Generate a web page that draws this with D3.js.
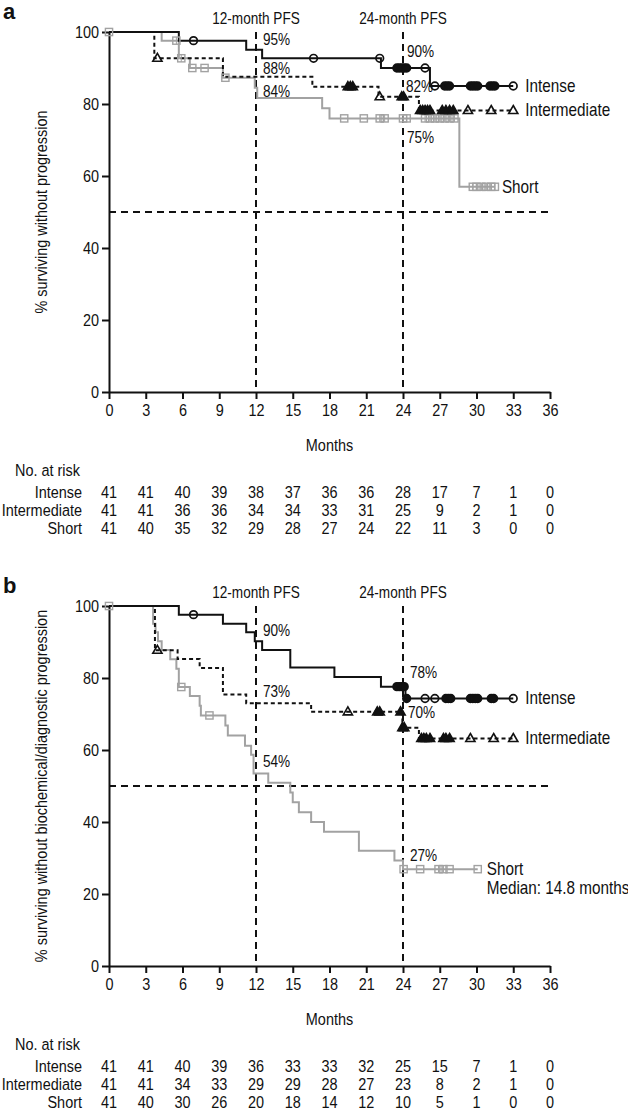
<!DOCTYPE html>
<html><head><meta charset="utf-8">
<script src="https://cdn.jsdelivr.net/npm/d3@7"></script>
<style>
html,body{margin:0;padding:0;background:#fff;}
svg text{font-family:'Liberation Sans',Arial,sans-serif;fill:#111;}
</style></head>
<body><svg id="c" width="628" height="1113"></svg>
<script>
// ---------- data ----------
const monthTicks = [0,3,6,9,12,15,18,21,24,27,30,33,36];
const yTicks = [0,20,40,60,80,100];
const groups = ["Intense","Intermediate","Short"];

// Panel a : progression-free survival
const aIntenseT = [0,5.7,11.2,12.5,22.2,26.2];
const aIntenseS = [100,97.6,95.1,92.7,90.0,85.0];
const aIntenseEnd = 33;
const aIntenseCens = [6.9,16.7,22.1,23.5,23.7,23.9,24.1,24.3,25.8,26.6,27.4,27.6,27.8,29.5,29.7,29.9,30.1,31.1,31.3,31.5,33.0];

const aInterT = [0,3.7,9.3,16.6,22.0,25.3];
const aInterS = [100,92.7,87.6,84.8,82.0,78.2];
const aInterEnd = 33;
const aInterCens = [3.95,19.5,19.7,19.9,22.1,23.9,24.05,25.4,25.6,25.8,26.0,26.2,27.2,27.5,27.8,28.1,29.3,31.2,33.0];

const aShortT = [0,4.3,5.7,6.6,9.3,11.9,12.1,17.4,18.0,28.6];
const aShortS = [100,97.6,92.7,90.0,87.3,84.5,81.7,78.8,76.0,57.0];
const aShortEnd = 31.5;
const aShortCens = [0,5.5,5.9,6.8,7.8,9.5,19.2,20.8,22.1,22.5,24.0,24.3,25.8,26.2,26.6,27.0,27.4,27.8,28.2,29.7,30.0,30.4,30.8,31.2,31.5];

const aRiskIntense = [41,41,40,39,38,37,36,36,28,17,7,1,0];
const aRiskInter   = [41,41,36,36,34,34,33,31,25,9,2,1,0];
const aRiskShort   = [41,40,35,32,29,28,27,24,22,11,3,0,0];

const aNotes = [
  {t:12,text:"95%",v:96.4,dx:7},{t:12,text:"88%",v:88.3,dx:7},{t:12,text:"84%",v:82.0,dx:7},
  {t:24,text:"90%",v:93.0,dx:4},{t:24,text:"82%",v:83.4,dx:3},{t:24,text:"75%",v:69.2,dx:4}
];
const aLabels = [
  {text:"Intense",t:33,v:85.0,dx:12},{text:"Intermediate",t:33,v:78.2,dx:12},{text:"Short",t:31.5,v:57.0,dx:7}
];

// Panel b : biochemical/diagnostic progression
const bIntenseT = [0,5.7,9.3,11.2,11.9,12.5,14.8,18.4,22.2,24.2];
const bIntenseS = [100,97.6,95.1,92.7,90.2,87.8,82.9,80.3,77.6,74.3];
const bIntenseEnd = 33;
const bIntenseCens = [6.9,23.5,23.7,23.9,24.1,24.3,25.8,26.6,27.5,27.7,27.9,29.5,29.7,29.9,30.1,31.2,31.4,33.0];

const bInterT = [0,3.75,5.6,7.4,9.3,11.2,16.5,23.95,25.3];
const bInterS = [100,87.7,85.3,82.8,75.4,73.0,70.6,66.2,63.2];
const bInterEnd = 33;
const bInterCens = [3.95,19.5,21.9,22.1,23.8,23.95,24.1,25.5,25.7,25.9,26.2,27.3,27.5,27.8,29.5,31.4,33.0];

const bShortT = [0,3.6,3.8,4.0,4.3,5.0,5.5,5.7,6.6,7.4,7.5,9.5,9.7,11.1,11.6,11.8,13.0,14.8,15.0,15.5,16.5,17.55,20.4,23.3,24.0];
const bShortS = [100,95.1,92.7,90.2,87.8,85.2,82.6,77.5,75.0,72.3,69.6,66.8,64.0,61.2,58.7,53.5,50.9,48.2,45.5,42.7,40.0,37.3,32.0,29.3,26.9];
const bShortEnd = 30.1;
const bShortCens = [0,5.9,8.2,24.05,25.4,26.9,27.3,27.8,30.1];

const bRiskIntense = [41,41,40,39,36,33,33,32,25,15,7,1,0];
const bRiskInter   = [41,41,34,33,29,29,28,27,23,8,2,1,0];
const bRiskShort   = [41,40,30,26,20,18,14,12,10,5,1,0,0];

const bNotes = [
  {t:12,text:"90%",v:91.6,dx:7},{t:12,text:"73%",v:74.6,dx:7},{t:12,text:"54%",v:55.2,dx:7},
  {t:24,text:"78%",v:79.9,dx:7},{t:24,text:"70%",v:68.8,dx:5},{t:24,text:"27%",v:29.3,dx:7}
];
const bLabels = [
  {text:"Intense",t:33,v:74.3,dx:12},{text:"Intermediate",t:33,v:63.2,dx:12},
  {text:"Short",t:30.1,v:26.9,dx:9},{text:"Median: 14.8 months",t:30.1,v:21.6,dx:9}
];

// ---------- drawing ----------
const svg = d3.select("#c");
const GRAY = "#a2a2a2";
const NARROW = 0.85;
const x = d3.scaleLinear().domain([0,36]).range([109,550]);

// condensed text helper
function txt(g, px, py, str, size, anchor, extra){
  return g.append("text")
    .attr("transform", `translate(${px},${py})${extra||""} scale(${NARROW},1)`)
    .attr("font-size", size).attr("text-anchor", anchor||"start").text(str);
}

function stepVal(T,S,t){ let v=S[0]; for(let i=0;i<T.length;i++){ if(T[i]<=t) v=S[i]; } return v; }

function panel(cfg){
  const top = cfg.top;
  const y = d3.scaleLinear().domain([0,100]).range([top+360, top]);
  const g = svg.append("g");

  g.append("text").attr("x",3).attr("y",top-13).attr("font-size",22).attr("font-weight","bold").text(cfg.letter);

  // reference lines
  [12,24].forEach(m=>{
    g.append("line").attr("x1",x(m)).attr("x2",x(m)).attr("y1",y(100)).attr("y2",y(0))
      .attr("stroke","#111").attr("stroke-width",2).attr("stroke-dasharray","7,5");
    txt(g, x(m), y(100)-8, m+"-month PFS", 16, "middle");
  });
  g.append("line").attr("x1",x(0)).attr("x2",x(36)).attr("y1",y(50)).attr("y2",y(50))
    .attr("stroke","#111").attr("stroke-width",2).attr("stroke-dasharray","7,5");

  // axes
  const ax = g.append("g").attr("transform",`translate(0,${y(0)})`)
    .call(d3.axisBottom(x).tickValues(monthTicks).tickSize(7).tickSizeOuter(0).tickPadding(5));
  const ay = g.append("g").attr("transform",`translate(${x(0)},0)`)
    .call(d3.axisLeft(y).tickValues(yTicks).tickSize(7).tickSizeOuter(0).tickPadding(3));
  [ax,ay].forEach(a=>{
    a.selectAll("path,line").attr("stroke","#111").attr("stroke-width",2);
    a.selectAll("text").attr("font-size",17).attr("fill","#111")
      .style("font-family","'Liberation Sans',Arial,sans-serif");
  });
  ax.selectAll(".tick text").attr("transform",`scale(${NARROW},1)`);
  ay.selectAll(".tick text").attr("x",-10/NARROW).attr("transform",`scale(${NARROW},1)`);

  txt(g, 41, y(50), cfg.ylab, 17, "middle", " rotate(-90)").attr("dominant-baseline","central");
  txt(g, (x(0)+x(36))/2, top+419, "Months", 17, "middle");

  // curves
  const line = d3.line().x(d=>x(d[0])).y(d=>y(d[1])).curve(d3.curveStepAfter);
  cfg.series.forEach(s=>{
    const pts = s.T.map((t,i)=>[t,s.S[i]]);
    pts.push([s.end, s.S[s.S.length-1]]);
    g.append("path").attr("d",line(pts)).attr("fill","none").attr("stroke",s.color)
      .attr("stroke-width",2).attr("stroke-dasharray",s.dash||null);
  });
  // censor marks
  cfg.series.forEach(s=>{
    const mg = g.append("g");
    s.C.forEach((t,i)=>{
      const crowded = s.C.some((u,j)=>j!==i && Math.abs(u-t)<0.45);
      const px = x(t), py = y(stepVal(s.T,s.S,t));
      const fill = crowded ? s.color : "none";
      if(s.shape==="circle"){
        mg.append("circle").attr("cx",px).attr("cy",py).attr("r",3.8)
          .attr("fill",fill).attr("stroke",s.color).attr("stroke-width",1.7);
      } else if(s.shape==="tri"){
        mg.append("path").attr("d",`M${px},${py-5}L${px+4.6},${py+3}L${px-4.6},${py+3}Z`)
          .attr("fill",fill).attr("stroke",s.color).attr("stroke-width",1.6);
      } else {
        mg.append("rect").attr("x",px-3.6).attr("y",py-3.6).attr("width",7.2).attr("height",7.2)
          .attr("fill","none").attr("stroke",s.color).attr("stroke-width",1.4);
        if(crowded) mg.append("line").attr("x1",px).attr("x2",px).attr("y1",py-3.6).attr("y2",py+3.6)
          .attr("stroke",s.color).attr("stroke-width",1);
      }
    });
  });

  // annotations
  cfg.notes.forEach(n=>{ txt(g, x(n.t)+n.dx, y(n.v), n.text, 16, "start"); });
  cfg.labels.forEach(l=>{
    txt(g, x(l.t)+l.dx, y(l.v), l.text, 18, "start").attr("dominant-baseline","central");
  });

  // risk table
  txt(g, 15, top+444, "No. at risk", 17, "start");
  cfg.risk.forEach((r,ri)=>{
    const yy = top+466+ri*18;
    txt(g, 82, yy, groups[ri], 17, "end");
    r.forEach((v,i)=>{ txt(g, x(monthTicks[i]), yy, v, 17, "middle"); });
  });
}

panel({
  top:32, letter:"a", ylab:"% surviving without progression",
  series:[
    {T:aShortT,S:aShortS,end:aShortEnd,C:aShortCens,color:GRAY,shape:"square"},
    {T:aInterT,S:aInterS,end:aInterEnd,C:aInterCens,color:"#111",shape:"tri",dash:"4,3"},
    {T:aIntenseT,S:aIntenseS,end:aIntenseEnd,C:aIntenseCens,color:"#111",shape:"circle"}
  ],
  notes:aNotes, labels:aLabels, risk:[aRiskIntense,aRiskInter,aRiskShort]
});
panel({
  top:606, letter:"b", ylab:"% surviving without biochemical/diagnostic progression",
  series:[
    {T:bShortT,S:bShortS,end:bShortEnd,C:bShortCens,color:GRAY,shape:"square"},
    {T:bInterT,S:bInterS,end:bInterEnd,C:bInterCens,color:"#111",shape:"tri",dash:"4,3"},
    {T:bIntenseT,S:bIntenseS,end:bIntenseEnd,C:bIntenseCens,color:"#111",shape:"circle"}
  ],
  notes:bNotes, labels:bLabels, risk:[bRiskIntense,bRiskInter,bRiskShort]
});
</script></body></html>
